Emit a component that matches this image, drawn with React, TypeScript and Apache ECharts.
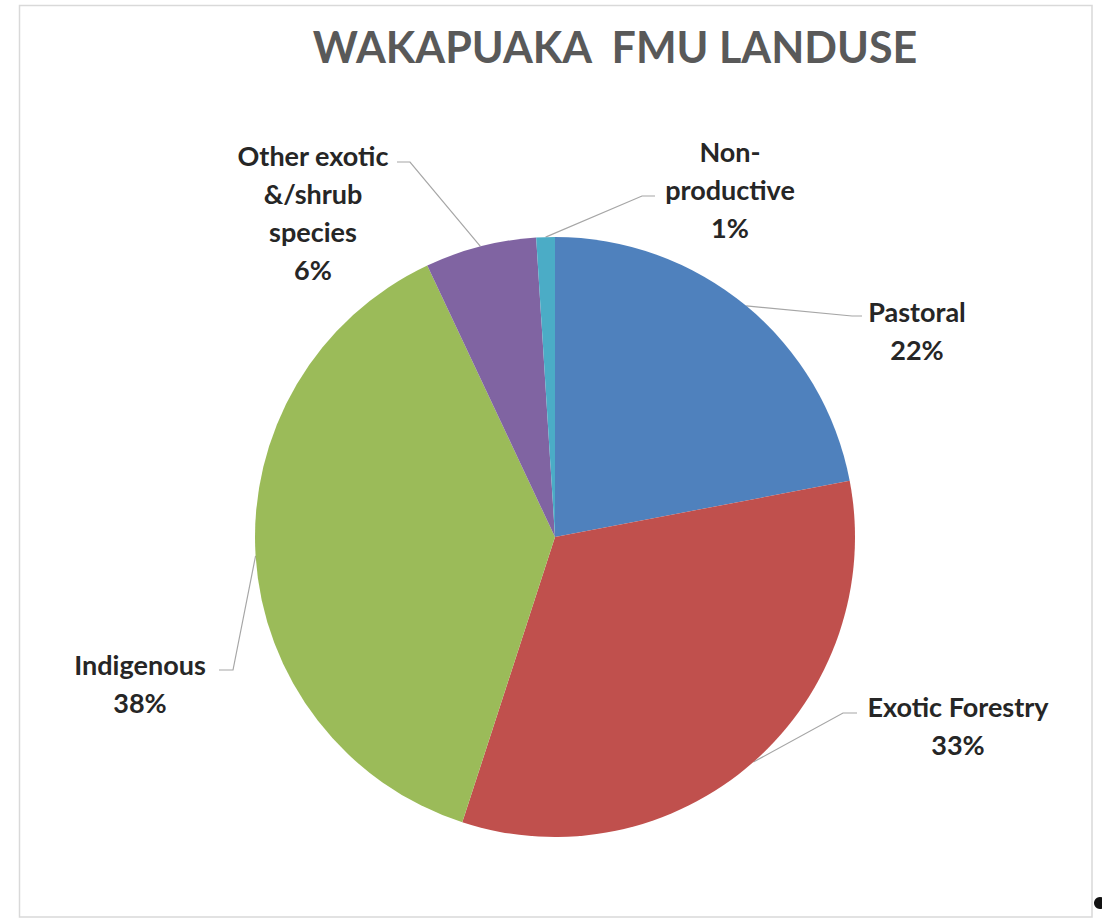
import React, { useEffect, useRef } from "react";
import * as echarts from "echarts";

const titleText = "WAKAPUAKA  FMU LANDUSE";
const categories = ["Pastoral", "Exotic Forestry", "Indigenous", "Other exotic &/shrub species", "Non-productive"];
const labelNames = ["Pastoral", "Exotic Forestry", "Indigenous", "Other exotic\n&/shrub\nspecies", "Non-\nproductive"];
const values = [22, 33, 38, 6, 1];
const colors = ["#4F81BD", "#C0504D", "#9BBB59", "#8064A2", "#4BACC6"];

// label layout (positions only)
const labelCenters = [[917, 330], [958, 725], [140, 683], [313, 212], [730, 189]];
const elbowPts = [[852, 316], [843, 713], [233, 670], [410, 162], [642, 196]];
const endPts = [[862, 316], [857, 713], [219, 670], [397, 162], [655, 196]];

export default function App() {
  const ref = useRef<HTMLDivElement>(null);
  useEffect(() => {
    if (!ref.current) return;
    const chart = echarts.init(ref.current, null, { renderer: "svg" });
    chart.setOption({
      animation: false,
      backgroundColor: "#ffffff",
      title: {
        text: titleText,
        left: 610,
        top: 20,
        textAlign: "center",
        textStyle: {
          fontFamily: "Lato",
          fontWeight: "bold",
          fontSize: 43,
          color: "#595959",
        },
      },
      graphic: [
        {
          type: "rect",
          shape: { x: 19.5, y: 5.5, width: 1072.5, height: 911.5 },
          style: { fill: "none", stroke: "#d9d9d9", lineWidth: 1.5 },
          silent: true,
        },
        {
          type: "circle",
          shape: { cx: 1100, cy: 903, r: 6 },
          style: { fill: "#111111" },
          silent: true,
        },
      ],
      series: [
        {
          type: "pie",
          center: [555, 537],
          radius: 300,
          startAngle: 90,
          clockwise: true,
          avoidLabelOverlap: false,
          itemStyle: { borderWidth: 0 },
          label: {
            show: true,
            position: "outside",
            fontFamily: "Lato",
            fontWeight: "bold",
            fontSize: 27,
            lineHeight: 38,
            color: "#262626",
            align: "center",
            formatter: (p: any) => `${labelNames[p.dataIndex]}\n${Math.round(p.percent)}%`,
          },
          labelLine: {
            show: true,
            lineStyle: { color: "#a6a6a6", width: 1.2 },
          },
          labelLayout: (params: any) => {
            const i = params.dataIndex;
            const anchor = params.labelLinePoints ? params.labelLinePoints[0] : elbowPts[i];
            return {
              x: labelCenters[i][0],
              y: labelCenters[i][1],
              align: "center",
              verticalAlign: "middle",
              labelLinePoints: [anchor, elbowPts[i], endPts[i]],
            };
          },
          data: categories.map((c, i) => ({
            name: c,
            value: values[i],
            itemStyle: { color: colors[i] },
          })),
        },
      ],
    });
    return () => chart.dispose();
  }, []);
  return (
    <div
      ref={ref}
      style={{ position: "fixed", left: 0, top: 0, width: 1102, height: 919 }}
    />
  );
}
